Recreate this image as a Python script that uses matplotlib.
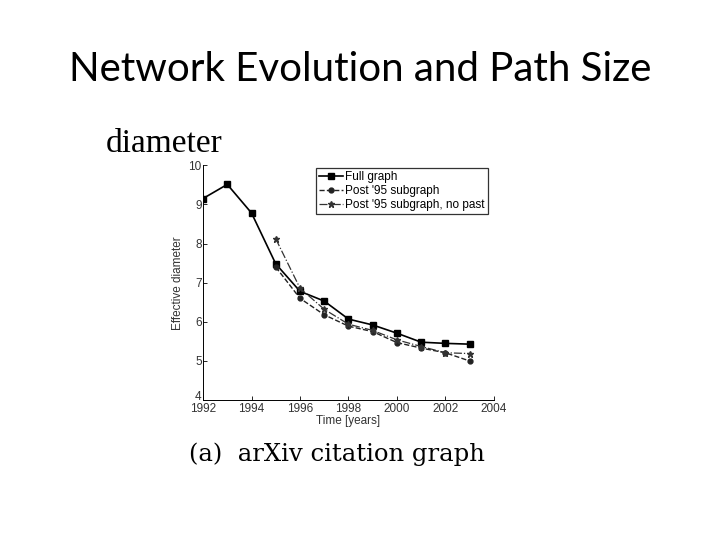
import numpy as np
import matplotlib.pyplot as plt

# data
years_full = [1992, 1993, 1994, 1995, 1996, 1997, 1998, 1999, 2000, 2001, 2002, 2003]
diam_full = [9.15, 9.51, 8.78, 7.48, 6.78, 6.53, 6.07, 5.92, 5.71, 5.48, 5.45, 5.43]

years_post = [1995, 1996, 1997, 1998, 1999, 2000, 2001, 2002, 2003]
diam_post = [7.40, 6.60, 6.18, 5.89, 5.75, 5.47, 5.33, 5.21, 5.00]
diam_nopast = [8.12, 6.86, 6.32, 5.94, 5.78, 5.54, 5.37, 5.21, 5.19]

series_labels = ["Full graph", "Post '95 subgraph", "Post '95 subgraph, no past"]
xticks = np.arange(1992, 2005, 2)
yticks = np.arange(4, 11, 1)

fig = plt.figure(figsize=(7.2, 5.4), dpi=100)

fig.text(0.5, 0.872, "Network Evolution and Path Size", ha="center", va="center",
         fontsize=29, family="Lato")
fig.text(0.147, 0.719, "diameter", ha="left", va="baseline",
         fontsize=24, family="Liberation Serif")
fig.text(0.263, 0.158, "(a)  arXiv citation graph", ha="left", va="center",
         fontsize=17.5, family="DejaVu Serif")

ax = fig.add_axes([0.282, 0.259, 0.404, 0.435])
ax.plot(years_full, diam_full, "-s", color="black", lw=1.2, ms=4.5,
        label=series_labels[0])
ax.plot(years_post, diam_post, "--o", color="#222222", lw=1.0, ms=3.5,
        label=series_labels[1])
ax.plot(years_post, diam_nopast, "-.*", color="#333333", lw=0.9, ms=5,
        label=series_labels[2])

ax.set_xlim(1992, 2004)
ax.set_ylim(4, 10)
ax.set_xticks(xticks)
ax.set_yticks(yticks)
ax.tick_params(direction="in", length=3, width=0.6, labelsize=8.5,
               labelcolor="#333333", pad=1)
ax.tick_params(axis="x", pad=2)
for lab in ax.get_xticklabels() + ax.get_yticklabels():
    lab.set_family("Liberation Sans")
# the "4" sits on the axis line, just above "1992"
ax.get_yticklabels()[0].set_va("baseline")
ax.spines["top"].set_visible(False)
ax.spines["right"].set_visible(False)
ax.spines["left"].set_linewidth(0.7)
ax.spines["bottom"].set_linewidth(0.7)
ax.set_xlabel("Time [years]", fontsize=8.5, family="Liberation Sans",
              color="#333333", labelpad=0)
ax.set_ylabel("Effective diameter", fontsize=8.5, family="Liberation Sans",
              color="#333333", labelpad=3)

leg = ax.legend(loc="upper right", bbox_to_anchor=(0.98, 0.99),
                frameon=True, fancybox=False, borderpad=0.3, handlelength=2.0,
                handletextpad=0.2, labelspacing=0.15, borderaxespad=0,
                prop={"family": "Liberation Sans", "size": 8.5})
leg.get_frame().set_edgecolor("black")
leg.get_frame().set_linewidth(0.9)

fig.savefig("out.png", dpi=100)
